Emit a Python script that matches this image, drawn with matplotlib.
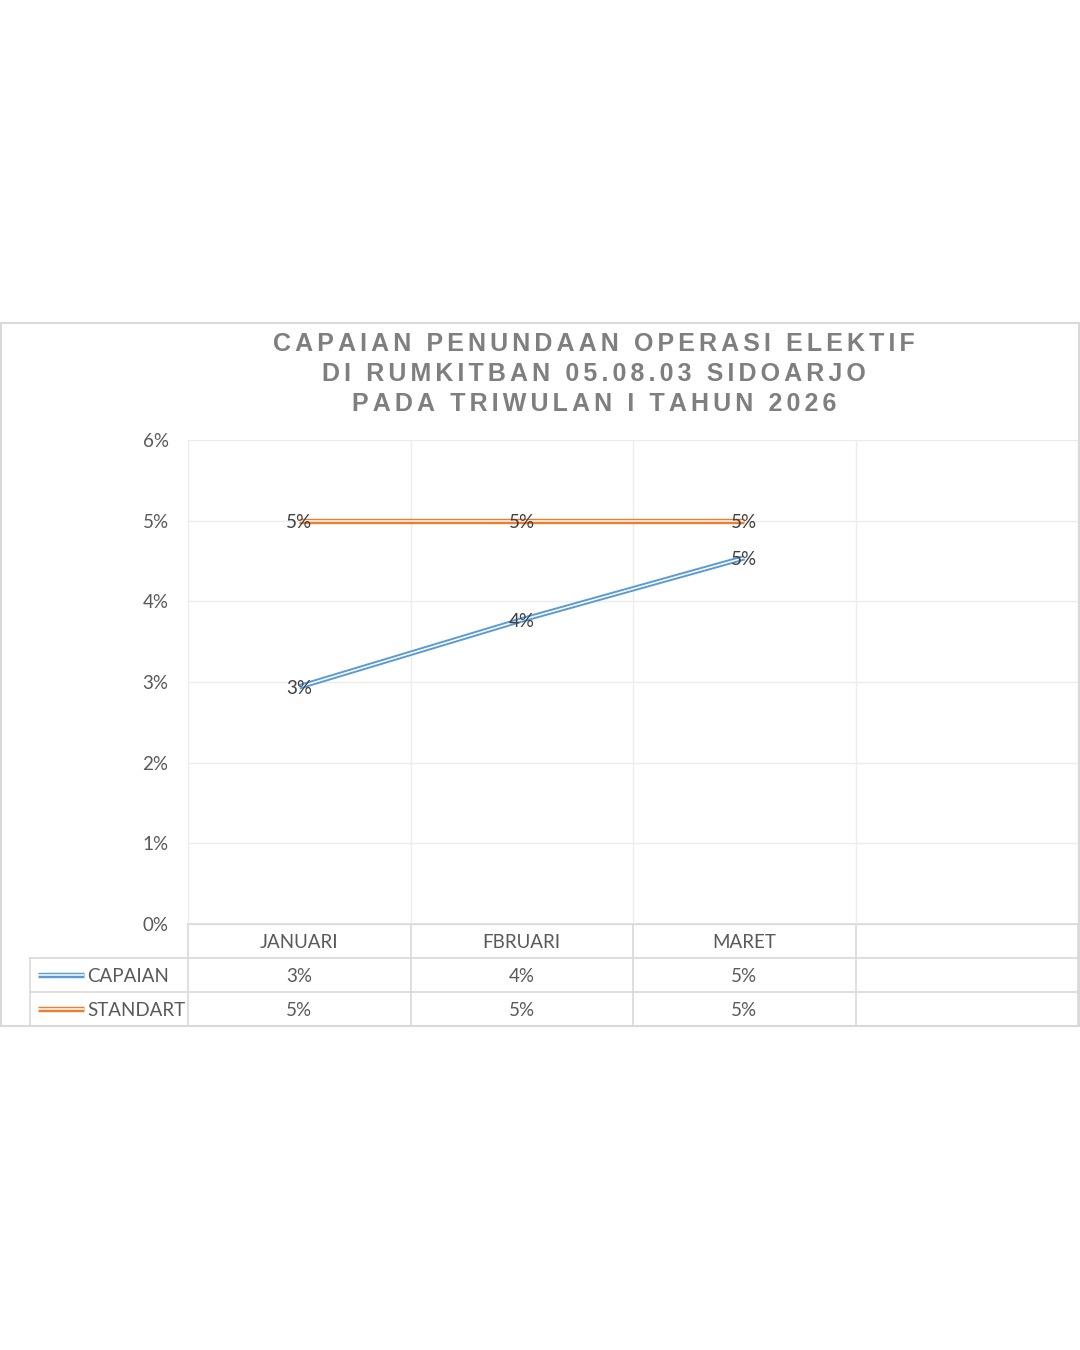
import matplotlib.pyplot as plt
from matplotlib.transforms import blended_transform_factory
from matplotlib.patches import Rectangle

# --- data ---
bulan = ["JANUARI", "FBRUARI", "MARET", ""]
capaian = [0.0294, 0.0377, 0.0454]
standart = [0.05, 0.05, 0.05]
seri = ["CAPAIAN", "STANDART"]
judul = ["CAPAIAN PENUNDAAN OPERASI ELEKTIF",
         "DI RUMKITBAN 05.08.03 SIDOARJO",
         "PADA TRIWULAN I TAHUN 2026"]

BIRU = "#5B9BD5"
ORANYE = "#ED7D31"
GRID = "#ececec"
GARIS = "#d9d9d9"
FONT = ["Lato", "DejaVu Sans"]


def spasi(teks, sp="\u2006"):
    # huruf direnggangkan seperti judul Excel
    return sp.join(teks)


def garis_ganda(ax, x, y, warna, **kw):
    # garis "double" ala Excel: garis tebal berwarna + garis putih tipis di tengah
    ax.plot(x, y, color=warna, lw=3.9, solid_capstyle="butt", **kw)
    ax.plot(x, y, color="white", lw=1.1, solid_capstyle="butt", **kw)


W, H = 1080, 1350
fig = plt.figure(figsize=(W / 100, H / 100), dpi=100)

# overlay dalam koordinat piksel untuk bingkai & tabel
ov = fig.add_axes([0, 0, 1, 1], zorder=0)
ov.set_xlim(0, W)
ov.set_ylim(H, 0)
ov.axis("off")

x0, x1, y_top, y_bot = 188, 1078, 440, 924
ax = fig.add_axes([x0 / W, (H - y_bot) / H, (x1 - x0) / W, (y_bot - y_top) / H], zorder=1)
ax.patch.set_alpha(0)

n = len(bulan)
ax.set_xlim(0, n)
ax.set_ylim(0, 0.06)
ax.set_yticks([i / 100 for i in range(7)])
ax.set_yticklabels([f"{i}%" for i in range(7)], fontfamily=FONT, fontsize=13.5, color="#595959")
ax.set_xticks(range(n + 1))
ax.set_xticklabels([])
ax.tick_params(length=0, pad=14)
ax.grid(True, axis="y", color=GRID, lw=1)
ax.grid(True, axis="x", color=GRID, lw=1)
for s in ["top", "right", "left"]:
    ax.spines[s].set_visible(False)
ax.spines["bottom"].set_color(GARIS)
ax.spines["left"].set_visible(True)
ax.spines["left"].set_color(GRID)

xs = [i + 0.5 for i in range(len(capaian))]
garis_ganda(ax, xs, standart, ORANYE)
garis_ganda(ax, xs, capaian, BIRU)
for serie in (standart, capaian):
    for x, v in zip(xs, serie):
        ax.annotate(f"{v * 100:.0f}%", (x, v), xytext=(0, -2), textcoords="offset pixels",
                    ha="center", va="center", fontfamily=FONT, fontsize=13.5,
                    color="#404040", zorder=5)

# bingkai chart
ov.add_patch(Rectangle((1, 323), 1078, 703, fill=False, ec=GARIS, lw=1.5))

# judul
fig.text(594 / W, 1 - 374 / H, "\n".join(spasi(t) for t in judul),
         ha="center", va="center", multialignment="center",
         fontfamily=["Liberation Sans", "DejaVu Sans"], fontweight="bold",
         fontsize=18, color="#7f7f7f", linespacing=1.32)

# tabel data di bawah sumbu
tr = blended_transform_factory(ax.transData, ov.transData)
rows = [924, 958, 992, 1026]
for i, y in enumerate(rows):
    ov.plot([30 if i > 0 else x0, x1], [y, y], color=GARIS, lw=1.2)
ov.plot([30, 30], [958, 1026], color=GARIS, lw=1.2)
for k in range(n + 1):
    ov.plot([k, k], [924, 1026], color=GARIS, lw=1.2, transform=tr)

teks_kw = dict(ha="center", va="center", fontfamily=FONT, fontsize=13.5, color="#595959")
for k, b in enumerate(bulan):
    ov.text(k + 0.5, 943, b, transform=tr, **teks_kw)
for j, (nama, serie, warna) in enumerate(zip(seri, [capaian, standart], [BIRU, ORANYE])):
    yc = (rows[j + 1] + rows[j + 2]) / 2
    garis_ganda(ov, [38, 84], [yc, yc], warna)
    ov.text(87, yc + 2, nama, ha="left", va="center", fontfamily=FONT,
            fontsize=13.5, color="#595959")
    for k, v in enumerate(serie):
        ov.text(k + 0.5, yc + 2, f"{v * 100:.0f}%", transform=tr, **teks_kw)

fig.savefig("out.png", dpi=100, facecolor="white")
